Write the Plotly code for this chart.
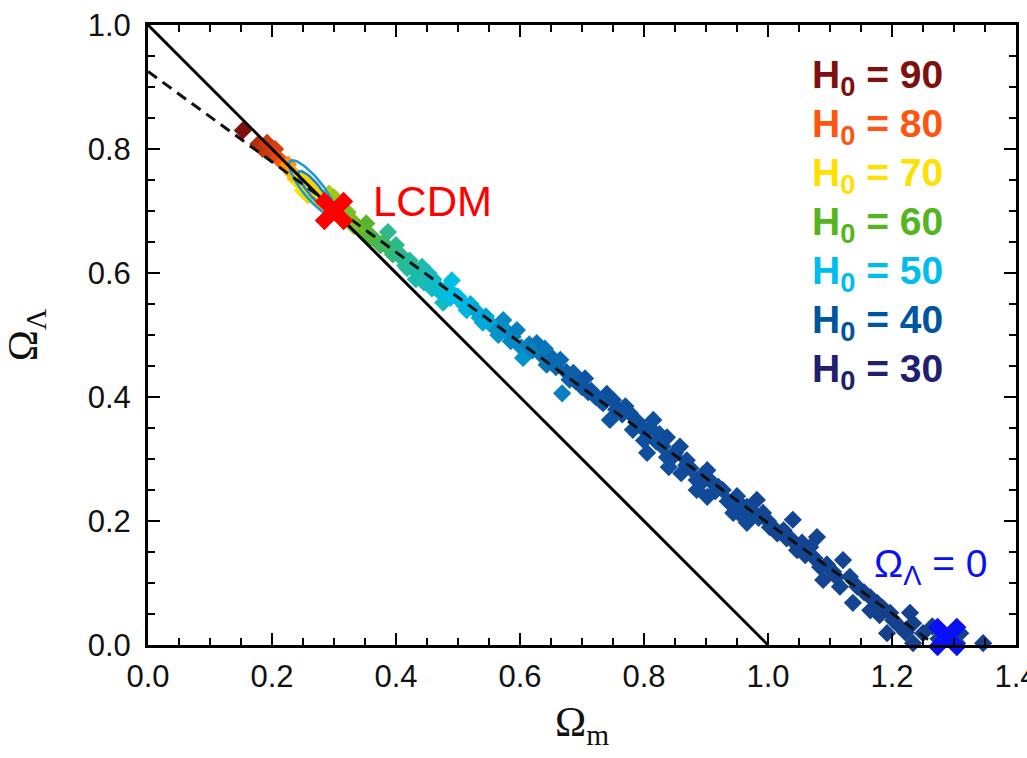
import numpy as np
import plotly.graph_objects as go

# ---------------- data ----------------
om = [0.153, 0.178, 0.185, 0.192, 0.198, 0.205, 0.210, 0.218, 0.226, 0.232,
      0.238, 0.245, 0.250, 0.258, 0.262, 0.270, 0.278, 0.285, 0.292, 0.300,
      0.305, 0.315, 0.322, 0.330, 0.338, 0.345, 0.352, 0.360, 0.368, 0.375,
      0.387, 0.388, 0.395, 0.400, 0.408, 0.415, 0.422, 0.430, 0.438, 0.445,
      0.452, 0.460, 0.468, 0.476, 0.482, 0.490, 0.496, 0.505, 0.514, 0.520,
      0.528, 0.535, 0.545, 0.552, 0.560, 0.573, 0.580, 0.588, 0.595, 0.602,
      0.605, 0.615, 0.627, 0.632, 0.643, 0.650, 0.658, 0.665, 0.668, 0.675,
      0.686, 0.690, 0.700, 0.705, 0.715, 0.729, 0.734, 0.740, 0.745, 0.750,
      0.760, 0.770, 0.777, 0.782, 0.790, 0.800, 0.805, 0.810, 0.815, 0.825,
      0.830, 0.837, 0.837, 0.840, 0.850, 0.858, 0.860, 0.869, 0.875, 0.885,
      0.885, 0.895, 0.902, 0.902, 0.910, 0.920, 0.927, 0.935, 0.944, 0.950,
      0.958, 0.966, 0.966, 0.975, 0.982, 0.985, 0.992, 1.000, 1.003, 1.015,
      1.025, 1.040, 1.038, 1.047, 1.055, 1.068, 1.079, 1.075, 1.084, 1.089,
      1.095, 1.105, 1.116, 1.121, 1.132, 1.144, 1.137, 1.155, 1.165, 1.165,
      1.176, 1.185, 1.192, 1.197, 1.202, 1.213, 1.229, 1.234, 1.234, 1.250,
      1.265, 1.275, 1.305, 1.310, 1.347,
      0.418, 0.432, 0.458, 0.472, 0.488, 0.510, 0.540, 0.565, 0.620, 0.640,
      0.680, 0.722, 0.755, 0.795, 0.820, 0.868, 0.915, 0.940, 1.010, 1.060,
      0.332, 0.358, 0.378, 0.405, 0.442, 0.500, 0.548, 0.585, 0.655, 0.710,
      0.765, 0.848, 0.893, 0.958, 1.030, 1.110, 1.180, 1.222]
ol = [0.830, 0.808, 0.800, 0.810, 0.792, 0.800, 0.785, 0.778, 0.775, 0.762,
      0.752, 0.745, 0.733, 0.725, 0.742, 0.722, 0.716, 0.712, 0.728, 0.722,
      0.700, 0.690, 0.698, 0.684, 0.675, 0.668, 0.680, 0.660, 0.652, 0.645,
      0.666, 0.640, 0.630, 0.645, 0.625, 0.612, 0.620, 0.605, 0.598, 0.585,
      0.600, 0.590, 0.578, 0.552, 0.575, 0.588, 0.563, 0.555, 0.540, 0.550,
      0.540, 0.528, 0.530, 0.518, 0.512, 0.524, 0.505, 0.497, 0.508, 0.480,
      0.463, 0.485, 0.487, 0.470, 0.452, 0.465, 0.448, 0.460, 0.406, 0.440,
      0.439, 0.425, 0.416, 0.430, 0.410, 0.395, 0.390, 0.405, 0.363, 0.395,
      0.378, 0.385, 0.374, 0.347, 0.360, 0.330, 0.310, 0.350, 0.363, 0.340,
      0.320, 0.335, 0.303, 0.287, 0.310, 0.320, 0.277, 0.298, 0.285, 0.266,
      0.250, 0.275, 0.282, 0.239, 0.262, 0.255, 0.250, 0.232, 0.213, 0.240,
      0.225, 0.223, 0.197, 0.215, 0.234, 0.205, 0.213, 0.200, 0.190, 0.180,
      0.185, 0.202, 0.170, 0.153, 0.165, 0.158, 0.174, 0.140, 0.126, 0.105,
      0.130, 0.118, 0.094, 0.137, 0.110, 0.094, 0.068, 0.085, 0.077, 0.056,
      0.068, 0.060, 0.019, 0.052, 0.040, 0.029, 0.052, 0.035, 0.003, 0.019,
      0.030, 0.010, 0.003, 0.019, 0.003,
      0.608, 0.590, 0.575, 0.568, 0.560, 0.548, 0.520, 0.500, 0.475, 0.478,
      0.428, 0.400, 0.380, 0.352, 0.328, 0.290, 0.248, 0.228, 0.188, 0.145,
      0.676, 0.656, 0.648, 0.632, 0.610, 0.562, 0.522, 0.490, 0.455, 0.408,
      0.372, 0.305, 0.262, 0.208, 0.172, 0.110, 0.048, 0.020]
h0 = [90, 86, 85, 84, 84, 83, 82, 80, 76, 74,
      72, 70, 70, 69, 69, 68, 67, 66, 65, 64,
      63, 63, 62, 62, 61, 61, 60, 59, 58, 58,
      55, 57, 56, 55, 55, 55, 54, 54, 53, 53,
      52, 52, 51, 52, 51, 50, 50, 50, 49, 49,
      48, 48, 47, 47, 46, 45, 46, 45, 44, 45,
      46, 44, 43, 43, 43, 42, 42, 42, 44, 41,
      41, 41, 40, 40, 40, 40, 40, 39, 40, 39,
      39, 39, 39, 39, 39, 39, 39, 39, 39, 39,
      39, 38, 39, 39, 38, 38, 38, 38, 38, 38,
      38, 38, 38, 38, 38, 38, 38, 38, 38, 38,
      38, 38, 38, 38, 37, 38, 37, 37, 37, 37,
      37, 37, 37, 37, 37, 37, 37, 37, 37, 37,
      37, 37, 37, 37, 37, 37, 37, 36, 36, 36,
      36, 36, 36, 36, 36, 36, 36, 36, 36, 36,
      36, 36, 36, 36, 36,
      54, 53, 52, 51, 50, 49, 48, 46, 44, 43,
      41, 40, 39, 39, 39, 38, 38, 38, 37, 37,
      62, 59, 57, 55, 53, 50, 48, 45, 42, 40,
      39, 38, 38, 38, 37, 37, 36, 36]

flat_x = [0.0, 1.0]
flat_y = [1.0, 0.0]
fit_x = [0.0, 1.27]
fit_y = [0.925, 0.0]

lcdm = (0.30, 0.70)
nolambda = (1.289, 0.013)

# ellipse params: centre x, centre y, semi-major, semi-minor, angle(deg)
ell_outer = [0.265, 0.737, 0.056, 0.016, -51]
ell_inner = [0.267, 0.735, 0.037, 0.010, -51]

legend_h0 = [90, 80, 70, 60, 50, 40, 30]
legend_cols = ['#7f1010', '#ff5511', '#ffe000', '#55b520', '#00bdf0', '#0055a0', '#20206e']

cscale = [[0.0, '#20206e'], [1/6, '#0d55a3'], [2/6, '#00bde8'], [3/6, '#5ab52a'],
          [4/6, '#ffe000'], [5/6, '#ff5511'], [1.0, '#7f1010']]


def ellipse(p):
    cx, cy, a, b, ang = p
    t = np.linspace(0, 2 * np.pi, 100)
    th = np.radians(ang)
    xs = cx + a * np.cos(t) * np.cos(th) - b * np.sin(t) * np.sin(th)
    ys = cy + a * np.cos(t) * np.sin(th) + b * np.sin(t) * np.cos(th)
    return xs, ys


fig = go.Figure()
fig.add_trace(go.Scatter(x=om, y=ol, mode='markers', cliponaxis=False,
                         marker=dict(symbol='diamond', size=14, color=h0, cmin=30, cmax=90,
                                     colorscale=cscale, line=dict(width=0)),
                         showlegend=False, hoverinfo='skip'))
ex, ey = ellipse(ell_outer)
fig.add_trace(go.Scatter(x=ex, y=ey, mode='lines', line=dict(color='#1a98dc', width=2.5),
                         showlegend=False, hoverinfo='skip'))
ex, ey = ellipse(ell_inner)
fig.add_trace(go.Scatter(x=ex, y=ey, mode='lines', fill='toself', fillcolor='#f7d400',
                         line=dict(color='#1a80d0', width=2.5),
                         showlegend=False, hoverinfo='skip'))
fig.add_trace(go.Scatter(x=flat_x, y=flat_y, mode='lines', line=dict(color='black', width=3),
                         showlegend=False, hoverinfo='skip'))
fig.add_trace(go.Scatter(x=fit_x, y=fit_y, mode='lines',
                         line=dict(color='#111111', width=3, dash='11px,7px'),
                         showlegend=False, hoverinfo='skip'))
fig.add_trace(go.Scatter(x=[lcdm[0]], y=[lcdm[1]], mode='markers', cliponaxis=False,
                         marker=dict(symbol='x', size=34, color='#ff0000', line=dict(width=0)),
                         showlegend=False, hoverinfo='skip'))
fig.add_trace(go.Scatter(x=[nolambda[0]], y=[nolambda[1]], mode='markers', cliponaxis=False,
                         marker=dict(symbol='x', size=34, color='#0a10f5', line=dict(width=0)),
                         showlegend=False, hoverinfo='skip'))

ann = []
ann.append(dict(x=0.36, y=0.716, xref='x', yref='y', text='LCDM', showarrow=False,
                xanchor='left', yanchor='middle',
                font=dict(family='Liberation Sans', size=42, color='#ff0000')))
ann.append(dict(x=1.168, y=0.127, xref='x', yref='y', text='Ω<sub>Λ</sub> = 0', showarrow=False,
                xanchor='left', yanchor='middle',
                font=dict(family='Liberation Sans', size=39, color='#0a10f5')))
for i, (h, c) in enumerate(zip(legend_h0, legend_cols)):
    ann.append(dict(x=0.763, y=0.915 - i * 0.079, xref='paper', yref='paper',
                    text='<b>H<sub>0</sub> = %d</b>' % h, showarrow=False,
                    xanchor='left', yanchor='middle',
                    font=dict(family='Liberation Sans', size=39, color=c)))

tick_font = dict(family='Liberation Sans', size=31, color='#111111')
axis_common = dict(showline=True, linewidth=3, linecolor='black', mirror='allticks',
                   ticks='inside', ticklen=12, tickwidth=2, tickcolor='black',
                   showgrid=False, zeroline=False, tickfont=tick_font,
                   ticklabeloverflow='allow', automargin=False,
                   minor=dict(ticks='inside', ticklen=7, tickwidth=2, tickcolor='black',
                              dtick=0.05, tick0=0, showgrid=False))

fig.update_layout(
    width=1027, height=758, autosize=False,
    margin=dict(l=148, r=11, t=25, b=113),
    paper_bgcolor='white', plot_bgcolor='white',
    annotations=ann,
    xaxis=dict(range=[0, 1.4], tickvals=[0, 0.2, 0.4, 0.6, 0.8, 1.0, 1.2, 1.4],
               ticktext=['0.0', '0.2', '0.4', '0.6', '0.8', '1.0', '1.2', '1.4'],
               ticklabelstandoff=2,
               title=dict(text='Ω<sub>m</sub>', standoff=14,
                          font=dict(family='Liberation Serif', size=42, color='#111111')),
               **axis_common),
    yaxis=dict(range=[0, 1.0], tickvals=[0, 0.2, 0.4, 0.6, 0.8, 1.0],
               ticktext=['0.0', '0.2', '0.4', '0.6', '0.8', '1.0'],
               ticklabelstandoff=8,
               title=dict(text='Ω<sub>Λ</sub>', standoff=38,
                          font=dict(family='Liberation Serif', size=42, color='#111111')),
               **axis_common),
)

fig.write_html('out.html')
